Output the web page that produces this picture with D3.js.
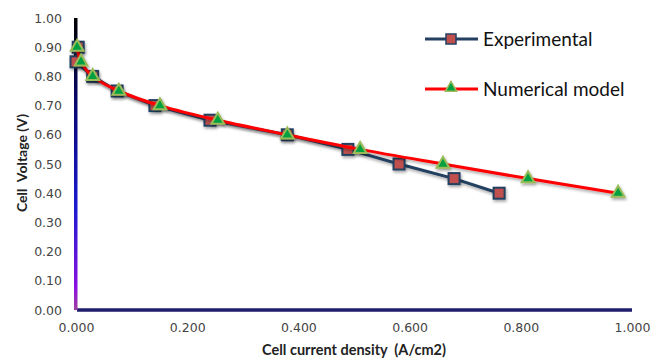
<!DOCTYPE html>
<html>
<head>
<meta charset="utf-8">
<script src="https://cdn.jsdelivr.net/npm/d3@7"></script>
<style>
  body { margin: 0; background: #fff; }
  text { font-family: "DejaVu Sans", sans-serif; }
</style>
</head>
<body>
<div id="chart"></div>
<script>
// Experimental points (current density A/cm2, voltage V)
const expCurrent = [0.004, 0.0, 0.03, 0.074, 0.142, 0.241, 0.38, 0.489, 0.581, 0.68, 0.761];
const expVoltage = [0.90, 0.85, 0.80, 0.75, 0.70, 0.65, 0.60, 0.55, 0.50, 0.45, 0.40];

// Numerical model points
const numCurrent = [0.002, 0.009, 0.03, 0.077, 0.151, 0.255, 0.38, 0.511, 0.66, 0.813, 0.975];
const numVoltage = [0.90, 0.85, 0.80, 0.75, 0.70, 0.65, 0.60, 0.55, 0.50, 0.45, 0.40];

const xTicks = [0, 0.2, 0.4, 0.6, 0.8, 1.0];
const yTicks = [0, 0.1, 0.2, 0.3, 0.4, 0.5, 0.6, 0.7, 0.8, 0.9, 1.0];
const seriesNames = ['Experimental', 'Numerical model'];

const W = 651, H = 358;
const margin = { top: 18, right: 19, bottom: 48, left: 76 };
const width = W - margin.left - margin.right;
const height = H - margin.top - margin.bottom;

const svg = d3.select('#chart').append('svg')
  .attr('width', W)
  .attr('height', H);

const defs = svg.append('defs');
const grad = defs.append('linearGradient')
  .attr('id', 'yaxisGrad')
  .attr('x1', 0).attr('y1', 0).attr('x2', 0).attr('y2', 1);
grad.append('stop').attr('offset', '0%').attr('stop-color', '#000000');
grad.append('stop').attr('offset', '35%').attr('stop-color', '#0a0a80');
grad.append('stop').attr('offset', '65%').attr('stop-color', '#1a1ad0');
grad.append('stop').attr('offset', '92%').attr('stop-color', '#8a10e0');
grad.append('stop').attr('offset', '100%').attr('stop-color', '#a040a0');

const shadow = defs.append('filter').attr('id', 'shadow')
  .attr('x', '-50%').attr('y', '-50%').attr('width', '200%').attr('height', '200%');
shadow.append('feDropShadow')
  .attr('dx', 1).attr('dy', 2).attr('stdDeviation', 1.5)
  .attr('flood-color', '#000').attr('flood-opacity', 0.35);

const g = svg.append('g')
  .attr('transform', `translate(${margin.left},${margin.top})`);

const x = d3.scaleLinear().domain([0, 1]).range([0, width]);
const y = d3.scaleLinear().domain([0, 1]).range([height, 0]);

// Y axis
const yAxis = g.append('g')
  .call(d3.axisLeft(y).tickValues(yTicks).tickFormat(d3.format('.2f')).tickSize(0).tickPadding(14));
yAxis.select('.domain').remove();
yAxis.selectAll('text')
  .style('font-size', '12.5px')
  .style('fill', '#444');

// X axis
const xAxis = g.append('g')
  .attr('transform', `translate(0,${height})`)
  .call(d3.axisBottom(x).tickValues(xTicks).tickFormat(d3.format('.3f')).tickSize(0).tickPadding(13));
xAxis.select('.domain').remove();
xAxis.selectAll('text')
  .style('font-size', '12.5px')
  .style('fill', '#444');

// axis lines
g.append('line')
  .attr('x1', x(0) + 1).attr('x2', x(1))
  .attr('y1', y(0)).attr('y2', y(0))
  .attr('stroke', '#1e1e6e')
  .attr('stroke-width', 3.5);

g.append('rect')
  .attr('x', x(0) - 2).attr('y', y(1))
  .attr('width', 3.5).attr('height', y(0) - y(1))
  .attr('fill', 'url(#yaxisGrad)');

// Axis titles
svg.append('text')
  .attr('x', 354)
  .attr('y', 355)
  .attr('text-anchor', 'middle')
  .style('font-family', 'Lato, "Open Sans", sans-serif')
  .style('font-weight', 'bold')
  .style('font-size', '14.5px')
  .style('white-space', 'pre')
  .style('fill', '#222')
  .text('Cell current density  (A/cm2)');

svg.append('text')
  .attr('transform', 'translate(27,163) rotate(-90)')
  .attr('text-anchor', 'middle')
  .style('font-family', 'Lato, "Open Sans", sans-serif')
  .style('font-weight', 'bold')
  .style('font-size', '14px')
  .style('white-space', 'pre')
  .style('fill', '#222')
  .text('Cell  Voltage (V)');

const expData = expCurrent.map((c, i) => ({ x: c, y: expVoltage[i] }));
const numData = numCurrent.map((c, i) => ({ x: c, y: numVoltage[i] }));

// Experimental line
const expLine = d3.line().x(d => x(d.x)).y(d => y(d.y));
g.append('path')
  .datum(expData)
  .attr('fill', 'none')
  .attr('stroke', '#243f60')
  .attr('stroke-width', 3)
  .attr('filter', 'url(#shadow)')
  .attr('d', expLine);

// Experimental squares
const sq = 11;
g.append('g')
  .selectAll('rect')
  .data(expData)
  .enter()
  .append('rect')
  .attr('x', d => x(d.x) - sq / 2)
  .attr('y', d => y(d.y) - sq / 2)
  .attr('width', sq)
  .attr('height', sq)
  .attr('fill', '#c0504d')
  .attr('stroke', '#243f60')
  .attr('stroke-width', 2)
  .attr('filter', 'url(#shadow)');

// Numerical model line
const numLine = d3.line().x(d => x(d.x)).y(d => y(d.y)).curve(d3.curveMonotoneY);
g.append('path')
  .datum(numData)
  .attr('fill', 'none')
  .attr('stroke', '#ff0000')
  .attr('stroke-width', 3)
  .attr('filter', 'url(#shadow)')
  .attr('d', numLine);

// Numerical model triangles
const tri = d3.symbol().type(d3.symbolTriangle).size(70);
g.append('g')
  .selectAll('path')
  .data(numData)
  .enter()
  .append('path')
  .attr('transform', d => `translate(${x(d.x)},${y(d.y)})`)
  .attr('d', tri)
  .attr('fill', '#00a040')
  .attr('stroke', '#9bbb59')
  .attr('stroke-width', 2)
  .attr('filter', 'url(#shadow)');

// Legend
const legend = svg.append('g');
const legendY = [39, 89];

legend.append('line')
  .attr('x1', 425).attr('x2', 478)
  .attr('y1', legendY[0]).attr('y2', legendY[0])
  .attr('stroke', '#243f60').attr('stroke-width', 3);
legend.append('rect')
  .attr('x', 451 - 5).attr('y', legendY[0] - 5)
  .attr('width', 10).attr('height', 10)
  .attr('fill', '#c0504d').attr('stroke', '#243f60').attr('stroke-width', 1.5);

legend.append('line')
  .attr('x1', 425).attr('x2', 478)
  .attr('y1', legendY[1]).attr('y2', legendY[1])
  .attr('stroke', '#ff0000').attr('stroke-width', 3);
legend.append('path')
  .attr('transform', `translate(451,${legendY[1] - 1})`)
  .attr('d', d3.symbol().type(d3.symbolTriangle).size(55))
  .attr('fill', '#00a040').attr('stroke', '#9bbb59').attr('stroke-width', 1.5);

legend.selectAll('text.leg')
  .data(seriesNames)
  .enter()
  .append('text')
  .attr('class', 'leg')
  .attr('x', 483)
  .attr('y', (d, i) => legendY[i])
  .attr('dy', '0.36em')
  .style('font-family', 'Lato, "Open Sans", sans-serif')
  .style('font-size', '19px')
  .style('fill', '#111')
  .text(d => d);
</script>
</body>
</html>
